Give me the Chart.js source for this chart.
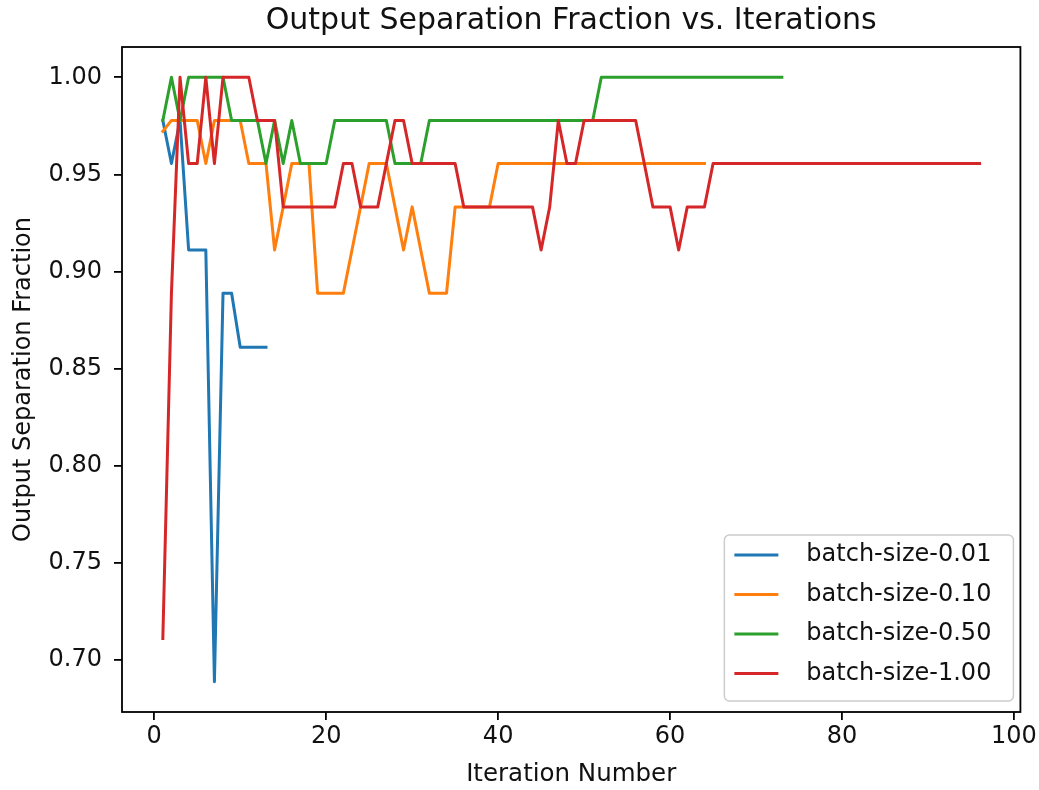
<!DOCTYPE html>
<html>
<head>
<meta charset="utf-8">
<title>Output Separation Fraction vs. Iterations</title>
<script src="https://cdn.jsdelivr.net/npm/chart.js@4.4.1/dist/chart.umd.min.js"></script>
<style>
  html, body { margin: 0; padding: 0; background: #fff; }
</style>
</head>
<body>
<canvas id="sepChart" width="1039" height="790"></canvas>
<script>
// separation fraction per iteration, iteration n is index + 1
const batch001 = [
  0.9778, 0.9556, 0.9778, 0.9111, 0.9111, 0.9111, 0.6889, 0.8889, 0.8889, 0.8611,
  0.8611, 0.8611, 0.8611
];

const batch010 = [
  0.9722, 0.9778, 0.9778, 0.9778, 0.9778, 0.9556, 0.9778, 0.9778, 0.9778, 0.9778,
  0.9556, 0.9556, 0.9556, 0.9111, 0.9333, 0.9556, 0.9556, 0.9556, 0.8889, 0.8889,
  0.8889, 0.8889, 0.9111, 0.9333, 0.9556, 0.9556, 0.9556, 0.9333, 0.9111, 0.9333,
  0.9111, 0.8889, 0.8889, 0.8889, 0.9333, 0.9333, 0.9333, 0.9333, 0.9333, 0.9556,
  0.9556, 0.9556, 0.9556, 0.9556, 0.9556, 0.9556, 0.9556, 0.9556, 0.9556, 0.9556,
  0.9556, 0.9556, 0.9556, 0.9556, 0.9556, 0.9556, 0.9556, 0.9556, 0.9556, 0.9556,
  0.9556, 0.9556, 0.9556, 0.9556
];

const batch050 = [
  0.9778, 1.0000, 0.9778, 1.0000, 1.0000, 1.0000, 1.0000, 1.0000, 0.9778, 0.9778,
  0.9778, 0.9778, 0.9556, 0.9778, 0.9556, 0.9778, 0.9556, 0.9556, 0.9556, 0.9556,
  0.9778, 0.9778, 0.9778, 0.9778, 0.9778, 0.9778, 0.9778, 0.9556, 0.9556, 0.9556,
  0.9556, 0.9778, 0.9778, 0.9778, 0.9778, 0.9778, 0.9778, 0.9778, 0.9778, 0.9778,
  0.9778, 0.9778, 0.9778, 0.9778, 0.9778, 0.9778, 0.9778, 0.9778, 0.9778, 0.9778,
  0.9778, 1.0000, 1.0000, 1.0000, 1.0000, 1.0000, 1.0000, 1.0000, 1.0000, 1.0000,
  1.0000, 1.0000, 1.0000, 1.0000, 1.0000, 1.0000, 1.0000, 1.0000, 1.0000, 1.0000,
  1.0000, 1.0000, 1.0000
];

const batch100 = [
  0.7111, 0.8889, 1.0000, 0.9556, 0.9556, 1.0000, 0.9556, 1.0000, 1.0000, 1.0000,
  1.0000, 0.9778, 0.9778, 0.9778, 0.9333, 0.9333, 0.9333, 0.9333, 0.9333, 0.9333,
  0.9333, 0.9556, 0.9556, 0.9333, 0.9333, 0.9333, 0.9556, 0.9778, 0.9778, 0.9556,
  0.9556, 0.9556, 0.9556, 0.9556, 0.9556, 0.9333, 0.9333, 0.9333, 0.9333, 0.9333,
  0.9333, 0.9333, 0.9333, 0.9333, 0.9111, 0.9333, 0.9778, 0.9556, 0.9556, 0.9778,
  0.9778, 0.9778, 0.9778, 0.9778, 0.9778, 0.9778, 0.9556, 0.9333, 0.9333, 0.9333,
  0.9111, 0.9333, 0.9333, 0.9333, 0.9556, 0.9556, 0.9556, 0.9556, 0.9556, 0.9556,
  0.9556, 0.9556, 0.9556, 0.9556, 0.9556, 0.9556, 0.9556, 0.9556, 0.9556, 0.9556,
  0.9556, 0.9556, 0.9556, 0.9556, 0.9556, 0.9556, 0.9556, 0.9556, 0.9556, 0.9556,
  0.9556, 0.9556, 0.9556, 0.9556, 0.9556, 0.9556
];

const seriesLabels = ['batch-size-0.01', 'batch-size-0.10', 'batch-size-0.50', 'batch-size-1.00'];
const seriesColors = ['#1f77b4', '#ff7f0e', '#2ca02c', '#d62728'];

const xTicks = [0, 20, 40, 60, 80, 100];
const yTicks = [0.70, 0.75, 0.80, 0.85, 0.90, 0.95, 1.00];

const FONT = 'DejaVu Sans';
const TEXT = '#111111';

function toPoints(values) {
    return values.map(function (v, i) {
        return { x: i + 1, y: v };
    });
}

// black box around the plot area
const axesFrame = {
    id: 'axesFrame',
    afterDatasetsDraw(chart) {
        const { ctx, chartArea } = chart;
        ctx.save();
        ctx.strokeStyle = '#000';
        ctx.lineWidth = 1.8;
        ctx.strokeRect(chartArea.left, chartArea.top,
            chartArea.right - chartArea.left, chartArea.bottom - chartArea.top);
        ctx.restore();
    }
};

// framed legend in the lower right corner of the plot area
const cornerLegend = {
    id: 'cornerLegend',
    afterDraw(chart) {
        const { ctx, chartArea } = chart;
        const sets = chart.data.datasets;
        ctx.save();
        ctx.font = '24px "' + FONT + '"';
        let textW = 0;
        sets.forEach(function (ds) {
            textW = Math.max(textW, ctx.measureText(ds.label).width);
        });
        const w = 10 + 44 + 28 + textW + 22;
        const h = 166;
        const right = chartArea.right - 7;
        const bottom = chartArea.bottom - 11;
        const left = right - w;
        const top = bottom - h;

        ctx.fillStyle = 'rgba(255,255,255,0.8)';
        ctx.strokeStyle = '#cccccc';
        ctx.lineWidth = 1.5;
        ctx.beginPath();
        ctx.roundRect(left, top, w, h, 5);
        ctx.fill();
        ctx.stroke();

        sets.forEach(function (ds, i) {
            const y = top + 20 + i * 39.5;
            ctx.strokeStyle = ds.borderColor;
            ctx.lineWidth = 3;
            ctx.beginPath();
            ctx.moveTo(left + 10, y);
            ctx.lineTo(left + 54, y);
            ctx.stroke();
            ctx.fillStyle = TEXT;
            ctx.textBaseline = 'middle';
            ctx.textAlign = 'left';
            ctx.fillText(ds.label, left + 82, y);
        });
        ctx.restore();
    }
};

const allSeries = [batch001, batch010, batch050, batch100];

new Chart(document.getElementById('sepChart'), {
    type: 'line',
    data: {
        datasets: allSeries.map(function (values, i) {
            return {
                label: seriesLabels[i],
                data: toPoints(values),
                borderColor: seriesColors[i],
                backgroundColor: seriesColors[i],
                borderWidth: 3,
                borderJoinStyle: 'round',
                borderCapStyle: 'square',
                pointRadius: 0,
                tension: 0,
                fill: false,
                order: allSeries.length - 1 - i
            };
        })
    },
    options: {
        responsive: false,
        animation: false,
        events: [],
        layout: {
            padding: { left: 0, right: 13, top: 0, bottom: 0 }
        },
        scales: {
            x: {
                type: 'linear',
                min: -3.75,
                max: 100.75,
                afterBuildTicks: function (scale) {
                    scale.ticks = xTicks.map(function (v) { return { value: v }; });
                },
                afterFit: function (scale) { scale.height = 78; },
                grid: {
                    drawOnChartArea: false,
                    drawTicks: true,
                    tickLength: 8,
                    color: '#000',
                    lineWidth: 1.8
                },
                border: { display: false },
                ticks: {
                    padding: 2,
                    color: TEXT,
                    font: { family: FONT, size: 24 },
                    maxRotation: 0,
                    callback: function (v) { return String(v); }
                },
                title: {
                    display: true,
                    text: 'Iteration Number',
                    color: TEXT,
                    font: { family: FONT, size: 24.5 },
                    padding: { top: 0, bottom: 1 }
                }
            },
            y: {
                type: 'linear',
                min: 0.6733,
                max: 1.0156,
                afterBuildTicks: function (scale) {
                    scale.ticks = yTicks.map(function (v) { return { value: v }; });
                },
                afterFit: function (scale) { scale.width = 122; },
                grid: {
                    drawOnChartArea: false,
                    drawTicks: true,
                    tickLength: 8,
                    color: '#000',
                    lineWidth: 1.8
                },
                border: { display: false },
                ticks: {
                    padding: 12,
                    color: TEXT,
                    font: { family: FONT, size: 24 },
                    callback: function (v) { return v.toFixed(2); }
                },
                title: {
                    display: true,
                    text: 'Output Separation Fraction',
                    color: TEXT,
                    font: { family: FONT, size: 24 },
                    padding: { top: 9, bottom: 0 }
                }
            }
        },
        plugins: {
            legend: { display: false },
            tooltip: { enabled: false },
            title: {
                display: true,
                text: 'Output Separation Fraction vs. Iterations',
                color: TEXT,
                fullSize: false,
                font: { family: FONT, size: 30, weight: 'normal' },
                padding: { top: 3, bottom: 8 }
            }
        }
    },
    plugins: [axesFrame, cornerLegend]
});
</script>
</body>
</html>
